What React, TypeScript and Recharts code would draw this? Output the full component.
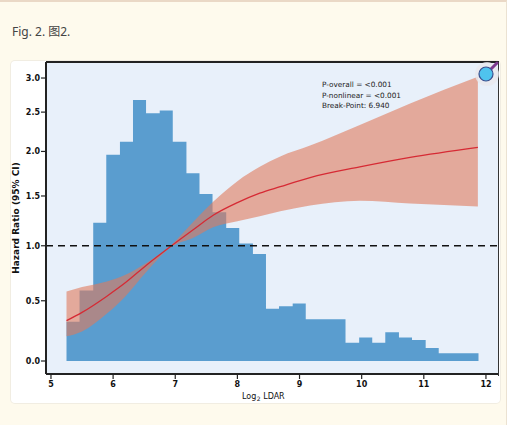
import { ComposedChart, Area, Line, XAxis, YAxis, ReferenceLine, CartesianGrid, Label } from "recharts";

const X_TICKS = [5, 6, 7, 8, 9, 10, 11, 12];
const HR_TICKS = [0, 0.5, 1, 1.5, 2, 2.5, 3];

// histogram of Log2 LDAR (bin left edges + last right edge), relative counts
const BIN_EDGES = [
  5.25, 5.46, 5.68, 5.89, 6.11, 6.32, 6.53, 6.75, 6.96, 7.18, 7.39, 7.6, 7.82, 8.03, 8.25, 8.46,
  8.67, 8.89, 9.1, 9.31, 9.53, 9.74, 9.96, 10.17, 10.38, 10.6, 10.81, 11.03, 11.24, 11.45, 11.67, 11.88,
];
const BIN_COUNTS = [
  15, 27, 53, 79, 84, 100, 95, 96, 84, 72, 64, 57, 51, 45, 41, 20, 21, 22, 16, 16, 16, 7, 9, 7, 11, 9,
  8, 5, 3, 3, 3,
];

// restricted cubic spline: HR and 95% CI
const CURVE_X = [5.25, 5.5, 5.9, 6.2, 6.54, 6.94, 7.3, 7.61, 8.0, 8.36, 8.69, 9.17, 9.97, 10.78, 11.87];
const HR = [0.33, 0.4, 0.54, 0.66, 0.82, 1.0, 1.16, 1.3, 1.43, 1.53, 1.6, 1.7, 1.82, 1.93, 2.05];
const HR_LOW = [0.2, 0.24, 0.39, 0.54, 0.76, 0.99, 1.08, 1.18, 1.24, 1.29, 1.34, 1.4, 1.45, 1.42, 1.39];
const HR_HIGH = [0.58, 0.62, 0.67, 0.73, 0.84, 1.01, 1.24, 1.44, 1.66, 1.82, 1.94, 2.07, 2.33, 2.62, 3.02];

const STATS = ["P-overall = <0.001", "P-nonlinear = <0.001", "Break-Point: 6.940"];

// the figure's y axis is compressed towards the top
const warp = (v: number) => v - 0.0832 * v * v;
const HR_TICK_POS = HR_TICKS.map(warp);

const histData = BIN_EDGES.map((x, i) => ({
  x,
  count: BIN_COUNTS[Math.min(i, BIN_COUNTS.length - 1)],
}));

const curveData = CURVE_X.map((x, i) => ({
  x,
  hr: warp(HR[i]),
  band: [warp(HR_LOW[i]), warp(HR_HIGH[i])],
}));

const tickStyle = { fontSize: 8, fontWeight: 700, fill: "#111", fontFamily: "DejaVu Sans" };

function YTitle() {
  return (
    <text
      x={4.5}
      y={157}
      transform="rotate(-90 4.5 157)"
      textAnchor="middle"
      dominantBaseline="central"
      fontSize={9}
      fontWeight={700}
      fontFamily="DejaVu Sans"
      fill="#111"
    >
      Hazard Ratio (95% CI)
    </text>
  );
}

function XTitle() {
  return (
    <text x={231} y={338} textAnchor="start" fontSize={8} fontFamily="DejaVu Sans" fill="#111">
      Log
      <tspan fontSize={6} dx={0.5} dy={2.2}>
        2
      </tspan>
      <tspan dy={-2.2}> LDAR</tspan>
    </text>
  );
}

export default function App() {
  return (
    <div
      style={{
        position: "fixed",
        left: 0,
        top: 0,
        width: 506,
        height: 423,
        background: "#fefaed",
        borderTop: "2px solid #ead8c6",
        borderRight: "1px solid #ebe2d2",
        fontFamily: "'Noto Sans', 'Noto Sans CJK SC', sans-serif",
      }}
    >
      <div style={{ position: "absolute", left: 12, top: 22, fontSize: 12, color: "#444", lineHeight: "16px" }}>
        Fig. 2. 图2.
      </div>
      <div
        style={{
          position: "absolute",
          left: 11,
          top: 59,
          width: 489,
          height: 342,
          background: "#fff",
          borderRadius: 4,
          boxShadow: "0 0 0 1px #f1ede2",
        }}
      >
        <ComposedChart width={489} height={342} margin={{ top: 1, right: 1, bottom: 0, left: 0 }}>
          <CartesianGrid horizontal={false} vertical={false} fill="#e8f0fa" />
          <XAxis
            dataKey="x"
            type="number"
            domain={[4.92, 12.21]}
            ticks={X_TICKS}
            allowDataOverflow
            height={29}
            tick={tickStyle}
            tickSize={5}
            tickMargin={2}
            axisLine={{ stroke: "#222", strokeWidth: 2 }}
            tickLine={{ stroke: "#222", strokeWidth: 1.2 }}
          >
            <Label content={<XTitle />} />
          </XAxis>
          <YAxis
            yAxisId="hr"
            type="number"
            domain={[-0.1034, 2.3787]}
            ticks={HR_TICK_POS}
            allowDataOverflow
            width={35}
            tick={tickStyle}
            tickSize={5}
            tickMargin={1}
            tickFormatter={(v: number) => {
              const i = HR_TICK_POS.indexOf(v);
              return i >= 0 ? HR_TICKS[i].toFixed(1) : "";
            }}
            axisLine={{ stroke: "#222", strokeWidth: 2 }}
            tickLine={{ stroke: "#222", strokeWidth: 1.2 }}
          >
            <Label content={<YTitle />} />
          </YAxis>
          <YAxis yAxisId="hist" orientation="right" type="number" domain={[-5, 114.6]} allowDataOverflow hide />
          <Area
            data={histData}
            yAxisId="hist"
            dataKey="count"
            type="stepAfter"
            baseValue={0}
            fill="#5a9dcf"
            fillOpacity={1}
            stroke="none"
            isAnimationActive={false}
          />
          <Area
            data={curveData}
            yAxisId="hr"
            dataKey="band"
            type="monotone"
            fill="#e07a5c"
            fillOpacity={0.6}
            stroke="none"
            isAnimationActive={false}
          />
          <Line
            data={curveData}
            yAxisId="hr"
            dataKey="hr"
            type="monotone"
            stroke="#d62a34"
            strokeWidth={1.3}
            dot={false}
            isAnimationActive={false}
          />
          <ReferenceLine yAxisId="hr" y={warp(1)} stroke="#111" strokeWidth={1.6} strokeDasharray="7 5" />
        </ComposedChart>
        <div
          style={{
            position: "absolute",
            left: 35,
            top: 0,
            width: 452,
            height: 313,
            borderTop: "2px solid #222",
            borderRight: "1.5px solid #333",
            pointerEvents: "none",
          }}
        />
        <div
          style={{
            position: "absolute",
            left: 311,
            top: 19,
            fontSize: 7.3,
            lineHeight: "10.5px",
            fontFamily: "DejaVu Sans",
            color: "#222",
            whiteSpace: "nowrap",
          }}
        >
          {STATS.map((s) => (
            <div key={s}>{s}</div>
          ))}
        </div>
      </div>
      <svg width={30} height={30} style={{ position: "absolute", left: 472, top: 57 }}>
        <circle cx={15} cy={15} r={12} fill="#e9e9ee" fillOpacity={0.8} />
        <line x1={18} y1={11} x2={25} y2={4} stroke="#7d3a8e" strokeWidth={3} strokeLinecap="round" />
        <circle cx={14} cy={15} r={7} fill="#4fc3ee" stroke="#3b4f8f" strokeWidth={1.2} />
      </svg>
    </div>
  );
}
